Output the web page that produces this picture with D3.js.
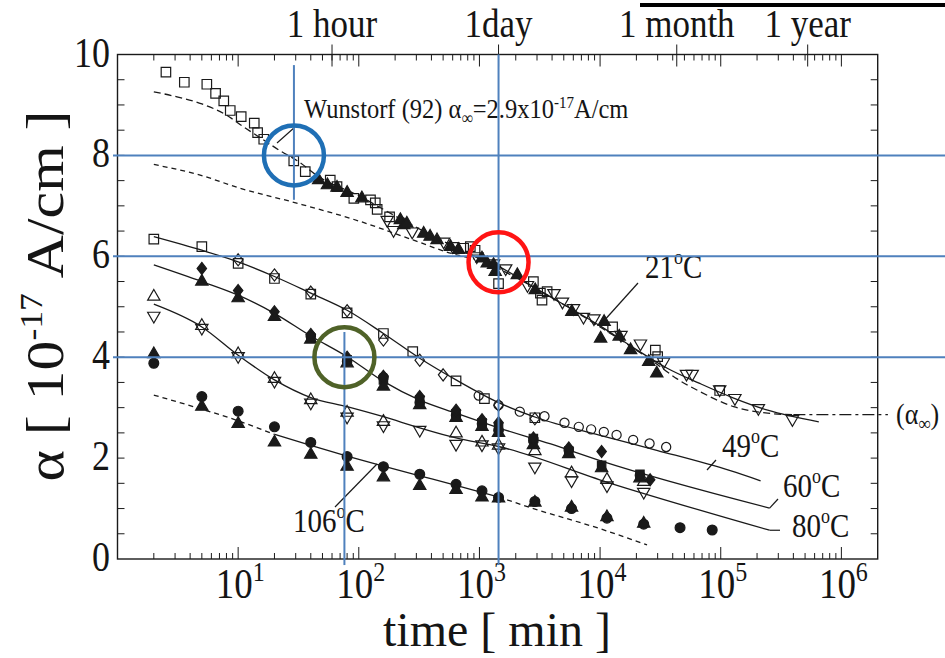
<!DOCTYPE html>
<html>
<head>
<meta charset="utf-8">
<script src="https://cdn.jsdelivr.net/npm/d3@7"></script>
<style>
  body { margin: 0; background: #fff; }
  svg { display: block; }
  text { font-family: "Liberation Serif", "Times New Roman", serif; fill: #151515; }
</style>
</head>
<body>
<div id="chart"></div>
<script>
// time [min], alpha [1e-17 A/cm]
const sq21 = [[2.52,9.65],[3.58,9.45],[5.5,9.41],[6.5,9.23],[7.6,9.08],[8.6,8.89],[10.6,8.77],[13.6,8.64],[14.5,8.45],[16.3,8.32],[28.9,7.89],[36,7.68],[58,7.51],[66,7.38],[91,7.15],[125,7.12],[137,7.06],[142,6.93],[180,6.78],[740,6.16],[840,6.19],[920,6.12],[1440,5.46],[2800,5.5],[3200,5.27],[3300,5.13],[3640,5.3],[12700,4.6],[28700,4.14],[30000,4.01],[98000,3.34]]
const triF21 = [[46.5,7.51],[55,7.41],[66,7.36],[80,7.26],[106,7.15],[221,6.72],[236,6.62],[250,6.65],[345,6.45],[390,6.39],[445,6.32],[575,6.19],[670,6.13],[1050,5.96],[1160,5.86],[1310,5.83],[1350,5.69],[2060,5.63],[2900,5.33],[5830,4.9],[10100,4.37],[10800,4.7],[14400,4.41],[17900,4.14],[25300,3.91],[29500,3.68]]
const triD21 = [[172,6.72],[194,6.52],[277,6.49],[505,6.29],[600,6.2],[950,6.0],[1310,5.86],[1650,5.76],[2500,5.43],[4150,5.27],[4880,5.1],[6020,4.97],[7280,4.8],[8890,4.77],[14900,4.44],[21600,4.27],[33600,3.91],[52000,3.67],[58000,3.67],[98000,3.36],[131000,3.19],[205000,2.99],[393000,2.77]]

const sq49 = [[2,6.34],[5,6.19],[10,5.86],[20,5.56],[40,5.25],[80,4.88],[160,4.47],[280,4.11],[640,3.53],[1100,3.18],[2880,2.8]]
const dia49 = [[10,5.93],[20,5.63],[40,5.29],[80,4.92],[160,4.34],[320,3.94],[500,3.65],[1440,3.05],[2880,2.78]]
const circ49 = [[986,3.24],[1440,3.05],[2160,2.92],[3460,2.83],[5070,2.7],[6660,2.62],[8430,2.57],[10740,2.52],[13700,2.46],[18800,2.36],[25700,2.29],[35300,2.22]]

const diaF60 = [[5,5.76],[10,5.32],[20,4.9],[40,4.45],[80,4.0],[160,3.62],[320,3.22],[640,2.95],[1050,2.76],[1440,2.7],[2800,2.4],[5500,2.2],[10300,2.13],[26000,1.57]]
const triF60 = [[5,5.5],[10,5.17],[20,4.8],[40,4.35],[80,3.88],[160,3.42],[320,3.05],[640,2.8],[1050,2.62],[1440,2.5],[2800,2.26],[5500,2.08],[10300,1.8],[21400,1.6]]
const sqF60 = [[40,4.38],[80,3.95],[160,3.55],[320,3.15],[640,2.88],[1050,2.7],[1440,2.6],[2800,2.39],[5500,2.14],[10300,1.86],[21400,1.68]]
const circF60 = [[40,4.42],[80,3.92],[160,3.6],[320,3.1],[640,2.85],[1050,2.68],[1440,2.55],[2800,2.35],[5500,2.16],[21400,1.66]]

const triU80 = [[2,5.2],[5,4.62],[10,4.06],[20,3.57],[40,3.15],[80,2.9],[160,2.72],[640,2.49],[1050,2.31],[1440,2.25],[2880,2.14],[5800,1.7],[11400,1.57],[23000,1.53]]
const triD80 = [[2,4.82],[5,4.58],[10,4.02],[20,3.53],[40,3.1],[80,2.82],[160,2.65],[320,2.56],[640,2.28],[1050,2.27],[1440,2.21],[2880,1.83],[5800,1.56],[11400,1.46],[23000,1.33]]

const circF106 = [[2,3.88],[5,3.22],[10,2.93],[20,2.62],[40,2.31],[80,2.03],[160,1.83],[320,1.68],[640,1.48],[1050,1.35],[1440,1.22],[2880,1.14],[5800,1.0],[11400,0.81],[23000,0.69],[46000,0.62],[85000,0.575]]
const triF106 = [[2,4.06],[5,3.02],[10,2.68],[20,2.31],[40,2.07],[80,1.83],[160,1.62],[320,1.45],[640,1.37],[1050,1.22],[1440,1.2],[2880,1.12],[5800,1.02],[11400,0.83],[23000,0.7]]

// fitted curves
const fit21 = [[2,9.26],[3,9.17],[5,9.02],[8,8.8],[11,8.57],[15,8.36],[22,8.1],[32,7.87],[45,7.6],[100,7.2],[200,6.8],[500,6.3],[1000,5.95],[3000,5.35],[10000,4.6],[30000,3.85],[43500,3.57],[67000,3.32],[128000,3.02],[245000,2.89],[400000,2.86]]
const fit21Solid = [[700,6.1],[1440,5.8],[3000,5.35],[10000,4.62],[20000,4.15],[36000,3.78],[67000,3.48],[128000,3.19],[245000,2.95],[650000,2.72]]
const dashLow = [[2,7.82],[5,7.6],[10,7.36],[30,7.06],[100,6.7],[300,6.3],[600,6.05],[900,5.95]]
const line49 = [[2,6.39],[5,6.12],[10,5.89],[20,5.6],[40,5.27],[80,4.93],[160,4.47],[320,3.98],[640,3.55],[1440,3.1],[3000,2.8],[10000,2.45],[30000,2.15],[120000,1.75],[214000,1.55]]
const line60 = [[2,5.83],[5,5.5],[10,5.23],[20,4.87],[40,4.42],[80,4.01],[160,3.52],[320,3.15],[640,2.89],[1440,2.6],[3900,2.28],[10000,1.95],[254000,1.01]]
const line80 = [[2,5.05],[5,4.6],[10,4.04],[20,3.55],[40,3.2],[80,3.02],[160,2.82],[320,2.6],[640,2.4],[1440,2.23],[11500,1.52],[254000,0.57]]
const line106 = [[2,3.25],[5,2.97],[10,2.74],[20,2.47],[40,2.25],[80,2.04],[160,1.84],[320,1.65],[640,1.46],[1440,1.23],[2800,1.0],[10000,0.6],[24500,0.28]]
const alphaInf = 2.86
const alphaInfSpan = [400000, 2.43e6]

const yTicks = [0, 2, 4, 6, 8, 10]
const xDecades = [10, 100, 1000, 1e4, 1e5, 1e6]
const timeMarks = [["1 hour", 60], ["1day", 1440], ["1 month", 43200], ["1 year", 525600]]

// blue guides and rings
const guideH = [8, 6, 4]
const guideV = [[29, 9.79, 7.12], [76, 4.5, -0.12], [1440, 10, -0.12]]
const rings = [[29, 8, "#1f6fb5"], [1440, 5.88, "#ff1414"], [76, 4.0, "#4f6228"]]

const W = 945, H = 658
const K = 1.15   // the scanned figure is stretched vertically
const x = d3.scaleLog().domain([1, 2e6]).range([117.5, 877.7])
const y = d3.scaleLinear().domain([0, 10]).range([559, 54.5])

const svg = d3.select("#chart").append("svg")
  .attr("width", W).attr("height", H)

const ink = "#1a1a1a"
const tr = (a, b) => "translate(" + a + "," + b + ") scale(1," + K + ")"

// frame
svg.append("rect")
  .attr("x", x(1)).attr("y", y(10))
  .attr("width", x(2e6) - x(1)).attr("height", y(0) - y(10))
  .attr("fill", "none").attr("stroke", ink).attr("stroke-width", 1.4)

// log ticks bottom + top
var logTicks = []
for (let e = 0; e <= 6; e++) {
  for (let m = 1; m <= 9; m++) {
    const t = m * Math.pow(10, e)
    if (t > 1 && t < 2e6) logTicks.push(t)
  }
}
const tg = svg.append("g").attr("stroke", ink).attr("stroke-width", 1)
logTicks.forEach(t => {
  const major = Math.abs(Math.log10(t) - Math.round(Math.log10(t))) < 1e-9
  const len = major ? 12 : 6
  tg.append("line").attr("x1", x(t)).attr("x2", x(t)).attr("y1", y(0)).attr("y2", y(0) - len)
  tg.append("line").attr("x1", x(t)).attr("x2", x(t)).attr("y1", y(10)).attr("y2", y(10) + len)
})
timeMarks.forEach(d => {
  tg.append("line").attr("x1", x(d[1])).attr("x2", x(d[1])).attr("y1", y(10) - 10).attr("y2", y(10) + 12)
})
// y ticks every 0.5
d3.range(0.5, 10, 0.5).forEach(v => {
  tg.append("line").attr("x1", x(1)).attr("x2", x(1) + 7).attr("y1", y(v)).attr("y2", y(v))
  tg.append("line").attr("x1", x(2e6)).attr("x2", x(2e6) - 7).attr("y1", y(v)).attr("y2", y(v))
})

// tick labels
svg.append("g").selectAll("text").data(yTicks).join("text")
  .attr("transform", d => tr(110, y(d) + 12))
  .attr("text-anchor", "end").attr("font-size", 36)
  .text(d => d)

const xl = svg.append("g").selectAll("text").data(xDecades).join("text")
  .attr("transform", d => tr(x(d) + 2, 598))
  .attr("text-anchor", "middle").attr("font-size", 37)
xl.append("tspan").text("10")
xl.append("tspan").attr("font-size", 24).attr("dy", -15).text(d => Math.round(Math.log10(d)))

svg.append("g").selectAll("text").data(timeMarks).join("text")
  .attr("transform", d => tr(x(d[1]), 37))
  .attr("text-anchor", "middle").attr("font-size", 35)
  .text(d => d[0])

// stray rule at top right of the scan
svg.append("line").attr("x1", 640).attr("x2", W).attr("y1", 5).attr("y2", 5)
  .attr("stroke", "#000").attr("stroke-width", 4)

// axis titles
const yt = svg.append("text")
  .attr("transform", "translate(63,296) rotate(-90) scale(" + K + ",1)")
  .attr("text-anchor", "middle").attr("font-size", 52)
yt.append("tspan").text("α [ 10")
yt.append("tspan").attr("font-size", 31).attr("dy", -21).text("-17")
yt.append("tspan").attr("dy", 21).text(" A/cm ]")

svg.append("text").attr("x", 497).attr("y", 646)
  .attr("text-anchor", "middle").attr("font-size", 48)
  .text("time  [ min ]")

// curves
const line = d3.line().x(d => x(d[0])).y(d => y(d[1])).curve(d3.curveMonotoneX)
const lg = svg.append("g").attr("fill", "none").attr("stroke", ink).attr("stroke-width", 1.3)

lg.append("path").attr("d", line(fit21)).attr("stroke-dasharray", "7,4")
lg.append("path").attr("d", line(fit21Solid))
lg.append("path").attr("d", line(dashLow)).attr("stroke-dasharray", "5,4")
lg.append("path").attr("d", line(line49))
lg.append("path").attr("d", line(line60))
lg.append("path").attr("d", line(line80))
lg.append("path").attr("d", line(line106.filter(d => d[0] <= 20))).attr("stroke-dasharray", "5,4")
lg.append("path").attr("d", line(line106.filter(d => d[0] >= 20 && d[0] <= 1440)))
lg.append("path").attr("d", line(line106.filter(d => d[0] >= 1440))).attr("stroke-dasharray", "5,4")
lg.append("path").attr("d", line(alphaInfSpan.map(t => [t, alphaInf])))
  .attr("stroke-dasharray", "12,4,3,4")

// markers
const symTriDown = {
  draw(ctx, size) {
    const r = Math.sqrt(size / (Math.sqrt(3) * 3))
    ctx.moveTo(0, 2 * r)
    ctx.lineTo(-Math.sqrt(3) * r, -r)
    ctx.lineTo(Math.sqrt(3) * r, -r)
    ctx.closePath()
  }
}
const symDia = {
  draw(ctx, size) {
    const r = Math.sqrt(size / 2.1)
    ctx.moveTo(0, -r * 1.15)
    ctx.lineTo(r * 0.9, 0)
    ctx.lineTo(0, r * 1.15)
    ctx.lineTo(-r * 0.9, 0)
    ctx.closePath()
  }
}

function drawSet(data, type, size, filled) {
  svg.append("g").selectAll("path").data(data).join("path")
    .attr("transform", d => "translate(" + x(d[0]) + "," + y(d[1]) + ")")
    .attr("d", d3.symbol().type(type).size(size))
    .attr("fill", filled ? ink : "none")
    .attr("stroke", ink).attr("stroke-width", 1.2)
}

drawSet(triF21, d3.symbolTriangle, 66, true)
drawSet(sq21, d3.symbolSquare, 90, false)
drawSet(triD21, symTriDown, 66, false)

drawSet(sq49, d3.symbolSquare, 90, false)
drawSet(dia49, symDia, 58, false)
drawSet(circ49, d3.symbolCircle, 66, false)

drawSet(circF60, d3.symbolCircle, 70, true)
drawSet(sqF60, d3.symbolSquare, 70, true)
drawSet(triF60, d3.symbolTriangle, 66, true)
drawSet(diaF60, symDia, 58, true)

drawSet(triU80, d3.symbolTriangle, 66, false)
drawSet(triD80, symTriDown, 66, false)

drawSet(circF106, d3.symbolCircle, 76, true)
drawSet(triF106, d3.symbolTriangle, 66, true)

// annotation text
function degLabel(xp, yp, num) {
  const t = svg.append("text").attr("transform", tr(xp, yp)).attr("font-size", 29)
  t.append("tspan").text(num)
  t.append("tspan").attr("font-size", 18).attr("dy", -12).text("o")
  t.append("tspan").attr("dy", 12).text("C")
}
degLabel(645, 278, "21")
degLabel(722, 457, "49")
degLabel(783, 497, "60")
degLabel(792, 537, "80")
degLabel(293, 532, "106")

const ag = svg.append("g").attr("stroke", ink).attr("stroke-width", 1.2)
ag.append("line").attr("x1", 638).attr("y1", 283).attr("x2", 602).attr("y2", 323)
ag.append("line").attr("x1", 707).attr("y1", 470).attr("x2", 716).attr("y2", 460)
ag.append("line").attr("x1", x(254000)).attr("y1", y(1.01)).attr("x2", 778).attr("y2", 499)
ag.append("line").attr("x1", x(254000)).attr("y1", y(0.57)).attr("x2", 780).attr("y2", y(0.57))
ag.append("line").attr("x1", 335).attr("y1", 507).attr("x2", 377).attr("y2", 464)
ag.append("line").attr("x1", 277).attr("y1", 143).attr("x2", 295).attr("y2", 127)

const wt = svg.append("text").attr("transform", tr(304, 118)).attr("font-size", 24.5)
wt.append("tspan").text("Wunstorf (92) α")
wt.append("tspan").attr("font-size", 16).attr("dy", 5).text("∞")
wt.append("tspan").attr("dy", -5).text("=2.9x10")
wt.append("tspan").attr("font-size", 15).attr("dy", -9).text("-17")
wt.append("tspan").attr("dy", 9).text("A/cm")

const ai = svg.append("text").attr("transform", tr(896, 424)).attr("font-size", 26)
ai.append("tspan").text("(α")
ai.append("tspan").attr("font-size", 17).attr("dy", 5).text("∞")
ai.append("tspan").attr("dy", -5).text(")")

// blue overlay
const bg = svg.append("g").attr("stroke", "#4f81bd").attr("stroke-width", 2)
guideH.forEach(v => {
  bg.append("line").attr("x1", 113).attr("x2", W).attr("y1", y(v)).attr("y2", y(v))
})
guideV.forEach(d => {
  bg.append("line").attr("x1", x(d[0])).attr("x2", x(d[0])).attr("y1", y(d[1])).attr("y2", y(d[2]))
})
svg.append("g").selectAll("circle").data(rings).join("circle")
  .attr("cx", d => x(d[0])).attr("cy", d => y(d[1])).attr("r", 30)
  .attr("fill", "none").attr("stroke", d => d[2]).attr("stroke-width", 4.5)
</script>
</body>
</html>
